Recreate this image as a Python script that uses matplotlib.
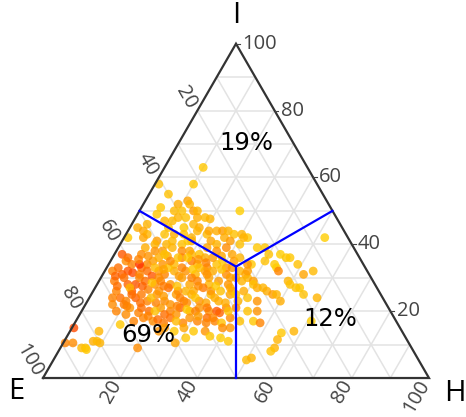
import numpy as np
import matplotlib
matplotlib.use("Agg")
import matplotlib.pyplot as plt
from matplotlib.colors import LinearSegmentedColormap

# ---- data: (H %, I %, colour value 0..1); E = 100 - H - I ----
pts_upper = [
    (10, 63, .15), (10, 58, .15), (1, 58, .2), (5, 55, .2), (5, 51, .15), (26, 50, .1),
    (52, 42, .1), (32, 42, .15), (9, 52, .35), (11, 53, .4), (12, 52, .3), (9, 50, .25),
    (11, 50, .2), (14, 50, .45), (15, 50, .3), (11, 48, .3), (13, 48, .2), (16, 48, .35),
    (18, 48, .25), (19.5, 47.6, .3), (5, 49, .15), (8, 47, .3), (10, 47, .25), (10, 45, .2),
    (14, 45, .15), (16, 46, .3), (18, 45, .35), (4, 46, .3), (2, 45, .35), (4, 44, .4),
    (1, 42, .15), (5.5, 43, .3), (5, 42, .4), (10, 43, .2), (12.5, 43, .35), (15, 43, .2),
    (17.5, 42, .3), (18, 44, .3), (21, 43, .25), (21, 44, .4), (23, 44, .35), (24.5, 44, .45),
    (26, 44, .3), (28, 43, .2), (9, 41, .45), (12, 40, .3), (16, 40, .2), (18, 41, .35),
    (23, 41, .4), (25, 40, .3), (26, 42, .35), (28, 41, .45), (31, 40, .2), (7, 39, .35),
    (9, 40, .3), (13, 41, .25), (17, 41, .15), (30, 43, .3), (31, 42, .3),
]

pts_core = [
    (2, 37, .8), (7, 37, .55), (10, 38, .5), (12, 38, .45), (14, 39, .3), (17, 38, .55),
    (20, 37, .3), (23, 39, .4), (26, 38, .5), (28, 39, .55), (30.5, 37, .4), (22, 37, .2),
    (4, 35, .55), (6, 34, .6), (9, 33, .7), (10, 34, .55), (11, 35, .45), (14, 34, .5),
    (17, 34, .25), (18, 36, .6), (23, 34, .3), (26, 33, .55), (28, 34, .2), (31, 33, .5),
    (32, 35, .45), (21, 35, .65), (26, 36, .45), (17, 36, .2), (12, 36, .35),
    (2, 32, .6), (5, 31, .75), (6, 32, .8), (8, 34, .95), (11, 32, .7), (14, 32, .5),
    (16, 31, .6), (18, 32, .35), (21, 32, .5), (24, 31, .3), (26, 32, .45), (28, 32, .35),
    (32, 31, .55), (35, 32, .3), (16, 33, .2), (24, 33, .25), (32.5, 33, .5),
    (4, 29, .65), (8, 28, .75), (10, 28, .8), (10, 30, .6), (12, 29, .7), (15, 28, .55),
    (16, 29, .6), (19, 28, .5), (21, 30, .45), (24, 28, .4), (25.5, 29, .6), (29, 28, .3),
    (31, 29, .45), (34, 28, .5), (37, 29, .3), (19, 27, .7), (24, 26, .3), (28, 27, .65),
    (33, 26, .2),
    (8, 24, .7), (10, 23, .6), (12, 24, .75), (13, 25, .65), (15.5, 23, .6), (17, 25, .5),
    (20, 23, .55), (22, 25, .45), (25, 23, .65), (26, 25, .3), (29, 23, .5), (31, 25, .25),
    (34, 23, .35), (36, 25, .4), (39, 23, .3), (7, 22, .55), (14, 22.5, .7),
    (9, 20, .6), (12, 21, .5), (17.5, 20, .7), (20, 21, .45), (23, 20, .6), (25, 21, .75),
    (28, 20, .35), (30, 21, .5), (33, 20, .55), (35, 20, .8), (36, 19.5, .75), (37, 21, .6),
    (39.5, 21, .5),
    (20, 17, .55), (23, 16.5, .65), (24, 18, .7), (28, 16.5, .6), (29, 18, .5), (31.5, 17, .6),
    (33.5, 18, .7), (35, 18, .6), (39.5, 18, .55), (17, 18, .6), (15, 17, .6),
    (4, 36, .7), (9, 36.5, .5), (14, 36.5, .4), (19, 38, .4), (24, 36, .35), (28, 36.5, .4),
    (6, 30, .7), (13, 30.5, .8), (15, 30, .55), (20, 30.5, .45), (23.5, 30, .6), (28, 30, .4),
    (35, 30, .35), (6, 26, .6), (10, 26, .8), (14, 26.5, .6), (17, 26, .5), (22, 26, .55),
    (26, 26, .35), (30.5, 26, .5), (36, 26, .3), (10, 22, .65), (18, 22.5, .6), (22, 22, .5),
    (26, 22.5, .55), (31, 22.5, .4), (36, 22.5, .35), (12, 19, .55), (15, 19.5, .6),
    (22, 19, .7), (25, 19, .5), (29.5, 20, .6), (36, 17, .6),
]

pts_fill = [
    (3, 33, .7), (7, 35.5, .6), (13, 37, .2), (15.5, 35, .55), (19.5, 36, .15), (22.5, 35.5, .5),
    (25, 34.5, .6), (29, 35, .15), (3.5, 30.5, .75), (7.5, 31.5, .85), (9.5, 31, .6),
    (12.5, 33, .25), (15, 32.5, .4), (19.5, 33, .6), (22.5, 32.5, .15), (27, 31, .5),
    (30, 32.5, .2), (33.5, 30, .45), (5.5, 27.5, .7), (9, 27, .3), (12, 27.5, .75),
    (14, 28.5, .2), (17.5, 27.5, .65), (21, 27.5, .2), (26.5, 27.5, .55), (31, 27.5, .15),
    (35, 27, .4), (6, 24, .6), (10.5, 25, .7), (16, 24, .25), (19, 24.5, .45), (23.5, 24, .6),
    (27.5, 24, .2), (32.5, 24, .35), (37.5, 25, .15), (11, 21.5, .6), (15, 21, .7), (19, 20, .2),
    (24, 21.5, .6), (27, 20.5, .15), (32, 21, .65), (38, 20, .2), (18, 18.5, .6), (21, 17.5, .7),
    (26, 17, .25), (31, 18.5, .45), (34, 16.5, .6), (38, 16.5, .2), (24, 15, .45), (27, 14, .15),
    (35, 14, .5), (37, 12.5, .15),
]

pts_lower = [
    (12, 16, .15), (29, 10.5, .4), (31, 12, .15), (40, 12, .1), (42.5, 11, .15), (7.5, 14, .3),
    (0.5, 15, .85), (0.5, 10.5, .6), (2.5, 10.5, .55), (5.5, 9, .25), (6.5, 9, .2), (7, 8.5, .15),
    (7.5, 11, .35), (8.5, 11, .25), (9.5, 10.5, .3), (20, 9, .55), (23, 14, .5), (29, 15, .4),
    (32, 14, .15), (41, 15, .5), (39, 15, .55),
]

pts_tail = [
    (37, 34, .15), (40, 35, .2), (43, 34, .15), (44, 33, .1), (43, 37, .1), (45, 36, .15),
    (46, 36, .15), (49, 34, .2), (45, 32, .6), (52, 31, .4), (54, 32, .25), (49, 29, .3),
    (50, 28, .2), (52, 27, .2), (53, 27, .15), (55, 25, .2), (59, 24, .3), (37, 31, .4),
    (38, 30, .3), (40, 29, .45), (40.5, 28, .2), (42, 27, .35), (43.5, 27, .3), (45, 26, .35),
    (47, 25, .45), (48, 25, .3), (50, 23, .35), (44, 23, .5), (45.5, 20, .5), (43, 20, .2),
    (46, 17, .15), (48, 16.5, .6), (42.5, 17, .2), (55, 13.5, .15), (55, 11.5, .3),
    (55.5, 9, .3), (55, 8, .2), (58, 14, .3), (50, 5.4, .25), (51, 6, .3), (61, 17, .1),
    (36, 39, .15), (38, 39, .15), (40, 37, .2), (36, 34, .5), (37, 32, .45), (39, 26, .35),
    (41, 24, .2), (33, 36, .3),
]

region_labels = ["E", "I", "H"]
region_pct = [69, 19, 12]
tick_values = [20, 40, 60, 80, 100]

# ---- helpers ----
S3 = np.sqrt(3) / 2


def proj(h, i):
    h = np.asarray(h, float)
    i = np.asarray(i, float)
    return h + i / 2, i * S3


fig = plt.figure(figsize=(4.66, 4.17), dpi=100)
ax = fig.add_axes([0, 0, 1, 1])
ax.set_xlim(-11.14, 109.59)
ax.set_ylim(-10.10, 97.93)
ax.axis("off")

GRID = "#e3e3e3"
for v in range(10, 100, 10):
    x, y = proj([0, 100 - v], [v, v])
    ax.plot(x, y, color=GRID, lw=1.1, zorder=1)
    x, y = proj([0, 100 - v], [100 - v, 0])
    ax.plot(x, y, color=GRID, lw=1.1, zorder=1)
    x, y = proj([v, v], [0, 100 - v])
    ax.plot(x, y, color=GRID, lw=1.1, zorder=1)

x, y = proj([0, 100, 0, 0], [0, 0, 100, 0])
ax.plot(x, y, color="#333333", lw=1.6, zorder=5, solid_joinstyle="miter")

cmap = LinearSegmentedColormap.from_list("yor", ["#FFDA00", "#FFB000", "#FF7800", "#FF2600"])
for grp in (pts_upper, pts_core, pts_fill, pts_lower, pts_tail):
    arr = np.array(grp, float)
    x, y = proj(arr[:, 0], arr[:, 1])
    ax.scatter(x, y, c=arr[:, 2], cmap=cmap, vmin=0, vmax=1, s=40, alpha=0.8,
               linewidths=0, zorder=3)

c = 100 / 3
for h_end, i_end in [(0, 50), (50, 50), (50, 0)]:
    x, y = proj([c, h_end], [c, i_end])
    ax.plot(x, y, color="#0000FF", lw=1.6, zorder=6)

TICK = "#444444"
tf = dict(fontsize=14.5, color=TICK, family=["Open Sans", "DejaVu Sans"])
for v in tick_values:
    x, y = proj(100 - v, v)
    ax.plot([x, x + 1.0], [y, y], color=TICK, lw=0.8, zorder=5)
    ax.text(x + 1.6, y, str(v), ha="left", va="center", **tf)
    x, y = proj(0, 100 - v)
    ax.text(x - 1.35, y + 0.75, str(v), ha="right", va="center", rotation=-60,
            rotation_mode="anchor", **tf)
    x, y = proj(v, 0)
    ax.text(x - 0.9, y - 1.0, str(v), ha="right", va="center", rotation=60,
            rotation_mode="anchor", **tf)

vf = dict(fontsize=21, color="black", family=["Open Sans", "DejaVu Sans"],
          ha="center", va="center")
ax.text(50.0, 93.8, "I", **vf)
ax.text(-7.0, -3.6, "E", **vf)
ax.text(106.6, -3.9, "H", **vf)

pct_pos = [(20.8, 12.8), (17.4, 70.3), (65.6, 17.7)]
for (h, i), p in zip(pct_pos, region_pct):
    x, y = proj(h, i)
    ax.text(x, y, f"{p}%", fontsize=17.5, color="black", family="DejaVu Sans",
            ha="center", va="center", zorder=7)

fig.savefig("out.png", dpi=100)
